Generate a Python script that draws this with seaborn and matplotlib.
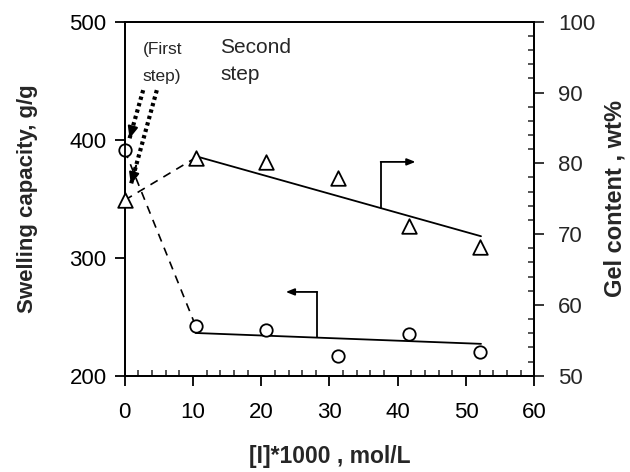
import numpy as np
import pandas as pd
import seaborn as sns
import matplotlib.pyplot as plt
from matplotlib.ticker import MultipleLocator

# initiator concentration [I]*1000, mol/L
conc_swell = [0, 10.4, 20.7, 31.2, 41.6, 52.1]
swelling = [391, 242, 239, 217, 235, 220]        # g/g, left axis (circles)
conc_gel = [0, 10.4, 20.7, 31.2, 41.6, 52.1]
gel = [74.8, 80.8, 80.2, 77.9, 71.1, 68.2]       # wt%, right axis (triangles)

# trend lines of the second step
swell_fit_x = [10.4, 52.2]
swell_fit_y = [236.2, 227.0]
gel_fit_x = [10.8, 52.2]
gel_fit_y = [80.9, 69.7]

sns.set_style("ticks")
plt.rcParams["font.family"] = ["Liberation Sans", "DejaVu Sans"]

df_s = pd.DataFrame({"x": conc_swell, "y": swelling})
df_g = pd.DataFrame({"x": conc_gel, "y": gel})

fig = plt.figure(figsize=(6.3, 4.72), dpi=100)
ax = fig.add_axes([0.198, 0.204, 0.650, 0.750])
ax2 = ax.twinx()

# first step: dashed links from the x=0 point to the first point of step two
sns.lineplot(data=df_s.iloc[:2], x="x", y="y", ax=ax, color="k", lw=1.2,
             linestyle=(0, (5, 4)), sort=False)
sns.lineplot(data=df_g.iloc[:2], x="x", y="y", ax=ax2, color="k", lw=1.2,
             linestyle=(0, (5, 4)), sort=False)

# second step trend lines
sns.lineplot(x=swell_fit_x, y=swell_fit_y, ax=ax, color="k", lw=1.3)
sns.lineplot(x=gel_fit_x, y=gel_fit_y, ax=ax2, color="k", lw=1.3)

sns.scatterplot(data=df_s, x="x", y="y", ax=ax, marker="o", s=80,
                facecolor="white", edgecolor="k", linewidth=1.3, clip_on=False, zorder=5)
sns.scatterplot(data=df_g, x="x", y="y", ax=ax2, marker="^", s=110,
                facecolor="white", edgecolor="k", linewidth=1.3, clip_on=False, zorder=5)

ax.set_xlim(0, 60)
ax.set_ylim(200, 500)
ax2.set_ylim(50, 100)
ax.xaxis.set_major_locator(MultipleLocator(10))
ax.xaxis.set_minor_locator(MultipleLocator(2))
ax.yaxis.set_major_locator(MultipleLocator(100))
ax2.yaxis.set_major_locator(MultipleLocator(10))
ax2.yaxis.set_minor_locator(MultipleLocator(2))

for a in (ax, ax2):
    for sp in a.spines.values():
        sp.set_visible(True)
        sp.set_linewidth(1.3)
        sp.set_color("k")
ax.tick_params(axis="both", which="major", direction="out", length=7, width=1.3,
               labelsize=16, colors="k", pad=6)
ax.tick_params(axis="x", which="minor", direction="in", length=4, width=1.1)
ax.tick_params(axis="x", which="major", pad=12)
ax2.tick_params(axis="y", which="major", direction="out", length=7, width=1.3,
                labelsize=16, pad=10)
ax2.tick_params(axis="y", which="minor", direction="in", length=4, width=1.1)

ax.set_xlabel("[I]*1000 , mol/L", fontsize=16.5, fontweight="bold", labelpad=16)
ax.set_ylabel("Swelling capacity, g/g", fontsize=16, fontweight="bold", labelpad=23)
ax2.set_ylabel("Gel content , wt%", fontsize=17, fontweight="bold", labelpad=6)

# text labels
ax.text(2.6, 473, "(First", fontsize=12.5, va="baseline", ha="left")
ax.text(2.6, 449.5, "step)", fontsize=12.5, va="baseline", ha="left")
ax.text(14.0, 473.5, "Second", fontsize=15, va="baseline", ha="left")
ax.text(14.0, 450.5, "step", fontsize=15, va="baseline", ha="left")

# dotted arrows from "(First step)"
first_arrows = [((2.7, 442), (0.7, 401)), ((4.7, 442), (0.9, 362))]
for (x0, y0), (x1, y1) in first_arrows:
    ax.plot([x0, x1], [y0, y1], color="k", lw=3, linestyle=(0, (0.8, 0.8)))
    ax.annotate("", xy=(x1, y1), xytext=(x1 + (x0 - x1) * 0.2, y1 + (y0 - y1) * 0.2),
                arrowprops=dict(arrowstyle="-|>,head_length=0.7,head_width=0.3",
                                lw=1.5, color="k", shrinkA=0, shrinkB=0))

# bracket arrows pointing to the relevant axis
thin = dict(arrowstyle="-|>,head_length=0.5,head_width=0.2", lw=1.3, color="k",
            shrinkA=0, shrinkB=0)
ax2.plot([37.5, 37.5], [73.7, 80.2], color="k", lw=1.3)
ax2.annotate("", xy=(42.6, 80.2), xytext=(37.5, 80.2), arrowprops=thin)
ax.plot([28.2, 28.2], [232.8, 271], color="k", lw=1.3)
ax.annotate("", xy=(23.6, 271), xytext=(28.2, 271), arrowprops=thin)

fig.savefig("out.png", dpi=100)
